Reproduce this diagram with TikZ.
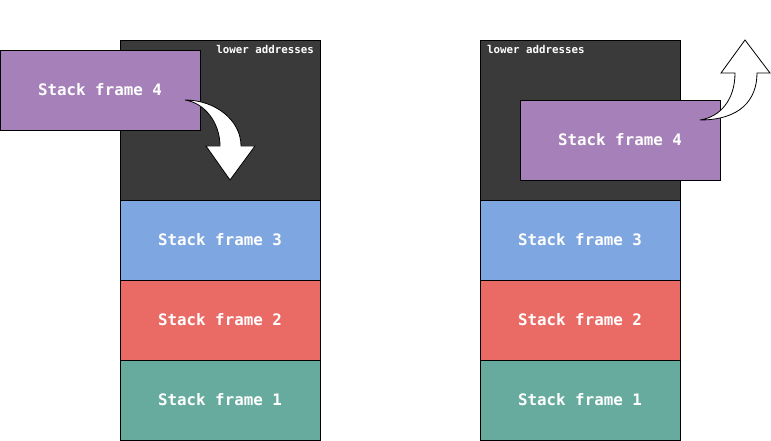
\documentclass[tikz,border=0pt]{standalone}
\usepackage{fontspec}
\setmonofont{DejaVu Sans Mono}
\definecolor{darkbg}{HTML}{3A3A3A}
\definecolor{fpurple}{HTML}{A680B8}
\definecolor{fblue}{HTML}{7EA6E0}
\definecolor{fred}{HTML}{EA6B66}
\definecolor{fgreen}{HTML}{67AB9F}
\tikzset{
  framebox/.style={draw=black, line width=0.9pt, minimum width=200pt, minimum height=80pt,
    inner sep=0pt, outer sep=0pt, text=white, font=\ttfamily\bfseries\fontsize{15.8}{18}\selectfont},
  stackbg/.style={draw=black, fill=darkbg, line width=0.9pt, minimum width=200pt, minimum height=160pt,
    inner sep=0pt, outer sep=0pt},
  lowlabel/.style={text=white, inner sep=0pt, font=\ttfamily\bfseries\fontsize{10.8}{12}\selectfont},
  flexarrow/.style={draw=black, fill=white, line width=0.8pt, line join=miter}
}
\begin{document}
\begin{tikzpicture}[x=1pt,y=-1pt]
\useasboundingbox (0,0) rectangle (771,441);
% left stack
\node[stackbg] (bgL) at (220,120) {};
\node[lowlabel, anchor=north east] (lowL) at (314,45) {lower addresses};
\node[framebox, fill=fblue] (f3L) at (220,240) {Stack frame 3};
\node[framebox, fill=fred] (f2L) at (220,320) {Stack frame 2};
\node[framebox, fill=fgreen] (f1L) at (220,400) {Stack frame 1};
\node[framebox, fill=fpurple] (f4L) at (100,90) {Stack frame 4};
\coordinate (aL) at (185,100);
\draw[flexarrow] (aL) .. controls (215,100) and (241,120) .. (241,146) -- (255,146) -- (230,180) -- (206,146) -- (220,146) .. controls (220,123) and (205,103) .. (aL) -- cycle;
% right stack
\node[stackbg] (bgR) at (580,120) {};
\node[lowlabel, anchor=north west] (lowR) at (487,45) {lower addresses};
\node[framebox, fill=fblue] (f3R) at (580,240) {Stack frame 3};
\node[framebox, fill=fred] (f2R) at (580,320) {Stack frame 2};
\node[framebox, fill=fgreen] (f1R) at (580,400) {Stack frame 1};
\node[framebox, fill=fpurple] (f4R) at (620,140) {Stack frame 4};
\coordinate (aR) at (700,120);
\draw[flexarrow] (aR) .. controls (740,120) and (757,100) .. (757,73) -- (770,73) -- (745,40) -- (721,73) -- (735,73) .. controls (735,100) and (720,117) .. (aR) -- cycle;
\end{tikzpicture}
\end{document}
